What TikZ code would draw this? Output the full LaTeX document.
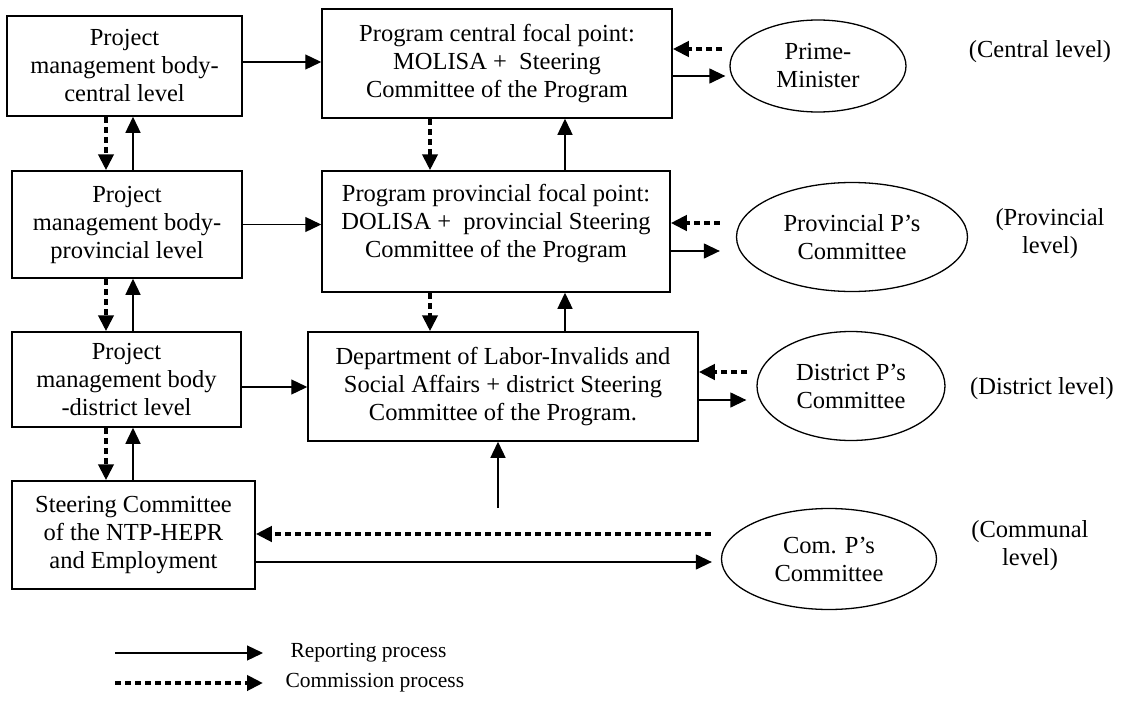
\documentclass[tikz,border=0pt]{standalone}
\usepackage{fontspec}
\setmainfont{Liberation Serif}
\usepackage{tikz}
\usetikzlibrary{positioning, arrows.meta, shapes.geometric}
\tikzset{
  box/.style={draw=black, line width=1.5pt, rectangle, align=center, inner sep=2pt,
              font=\fontsize{24.5}{28}\selectfont},
  council/.style={draw=black, line width=1.3pt, ellipse, align=center, inner sep=0pt,
              font=\fontsize{24.5}{28}\selectfont},
  levellabel/.style={align=center, font=\fontsize{24.5}{28}\selectfont},
  legendtext/.style={font=\fontsize{21.5}{24}\selectfont},
  report/.style={line width=1.3pt, -{Triangle[length=16pt,width=15pt]}},
  commission/.style={line width=4pt, dash pattern=on 6pt off 4pt, -{Triangle[length=16pt,width=15pt]}},
}

\begin{document}
\begin{tikzpicture}[x=1pt, y=-1pt]
  \useasboundingbox (0,0) rectangle (1144,704);

  \node[box, minimum width=235pt, minimum height=100pt] (pmc) at (124.5,66) {Project\\management body-\\central level};
  \node[box, minimum width=230pt, minimum height=107pt] (pmp) at (127,224.5) {Project\\management body-\\provincial level};
  \node[box, minimum width=229pt, minimum height=95pt] (pmd) at (126.5,379.5) {Project\\management body\\-district level};
  \node[box, minimum width=243pt, minimum height=108pt] (ntp) at (133.5,535) {Steering Committee\\of the NTP-HEPR\\and Employment};

  \node[box, minimum width=350pt, minimum height=109pt] (pfc) at (497,63.5) {Program central focal point:\\MOLISA +\ \ Steering\\Committee of the Program};
  \node[box, minimum width=348pt, minimum height=121pt] (pfp) at (496,231.5) {Program provincial focal point:\\DOLISA +\ \ provincial Steering\\Committee of the Program\\[-6pt]\mbox{}};
  \node[box, minimum width=390pt, minimum height=109pt] (dep) at (503,386.5) {Department of Labor-Invalids and\\Social Affairs + district Steering\\Committee of the Program.};

  \node[council, minimum width=176pt, minimum height=92pt] (prime) at (818,66) {Prime-\\Minister};
  \node[council, minimum width=231pt, minimum height=109pt] (provpc) at (852,237) {Provincial P’s\\Committee};
  \node[council, minimum width=188pt, minimum height=109pt] (distpc) at (851,386) {District P’s\\Committee};
  \node[council, minimum width=215pt, minimum height=101pt] (compc) at (829,559) {Com. P’s\\Committee};

  \node[levellabel] (lvcen) at (1040,52) {(Central level)};
  \node[levellabel] (lvpro) at (1050,234) {(Provincial\\level)};
  \node[levellabel] (lvdis) at (1042,389) {(District level)};
  \node[levellabel] (lvcom) at (1030,546) {(Communal\\level)};

  \coordinate (lcom) at (106,0);
  \coordinate (lrep) at (133,0);
  \coordinate (mcom) at (430,0);
  \coordinate (mrep) at (565,0);
  \coordinate (feed) at (498,508);

  \draw[commission] (pmc.south -| lcom) -- (pmp.north -| lcom);
  \draw[report] (pmp.north -| lrep) -- (pmc.south -| lrep);
  \draw[commission] (pmp.south -| lcom) -- (pmd.north -| lcom);
  \draw[report] (pmd.north -| lrep) -- (pmp.south -| lrep);
  \draw[commission] (pmd.south -| lcom) -- (ntp.north -| lcom);
  \draw[report] (ntp.north -| lrep) -- (pmd.south -| lrep);

  \draw[commission] (pfc.south -| mcom) -- (pfp.north -| mcom);
  \draw[report] (pfp.north -| mrep) -- (pfc.south -| mrep);
  \draw[commission] (pfp.south -| mcom) -- (dep.north -| mcom);
  \draw[report] (dep.north -| mrep) -- (pfp.south -| mrep);
  \draw[report] (feed) -- (feed |- dep.south);

  \draw[report] ([yshift=4pt]pmc.east) -- ([yshift=4pt]pmc.east -| pfc.west);
  \draw[report] (pmp.east) -- (pmp.east -| pfp.west);
  \draw[report] ([yshift=-7.5pt]pmd.east) -- ([yshift=-7.5pt]pmd.east -| dep.west);

  \draw[commission] ([xshift=-7pt,yshift=14.5pt]pfc.east -| prime.west) -- ([yshift=14.5pt]pfc.east);
  \draw[report] ([yshift=-12.5pt]pfc.east) -- ([xshift=-4pt,yshift=-12.5pt]pfc.east -| prime.west);
  \draw[commission] ([xshift=-16pt,yshift=8.5pt]pfp.east -| provpc.west) -- ([yshift=8.5pt]pfp.east);
  \draw[report] ([yshift=-19.5pt]pfp.east) -- ([xshift=-16pt,yshift=-19.5pt]pfp.east -| provpc.west);
  \draw[commission] ([xshift=-9pt,yshift=14.5pt]dep.east -| distpc.west) -- ([yshift=14.5pt]dep.east);
  \draw[report] ([yshift=-13.5pt]dep.east) -- ([xshift=-10pt,yshift=-13.5pt]dep.east -| distpc.west);
  \draw[commission] ([xshift=-10pt,yshift=1pt]ntp.east -| compc.west) -- ([yshift=1pt]ntp.east);
  \draw[report] ([yshift=-27pt]ntp.east) -- ([xshift=-9pt,yshift=-27pt]ntp.east -| compc.west);

  \coordinate (lgra) at (115,653);
  \coordinate (lgrb) at (263,653);
  \coordinate (lgca) at (115,683);
  \coordinate (lgcb) at (263,683);
  \draw[report] (lgra) -- (lgrb);
  \draw[commission] (lgca) -- (lgcb);
  \node[legendtext, right=24pt of lgrb] (lgrep) {Reporting process};
  \node[legendtext, right=19pt of lgcb] (lgcom) {Commission process};
\end{tikzpicture}
\end{document}
